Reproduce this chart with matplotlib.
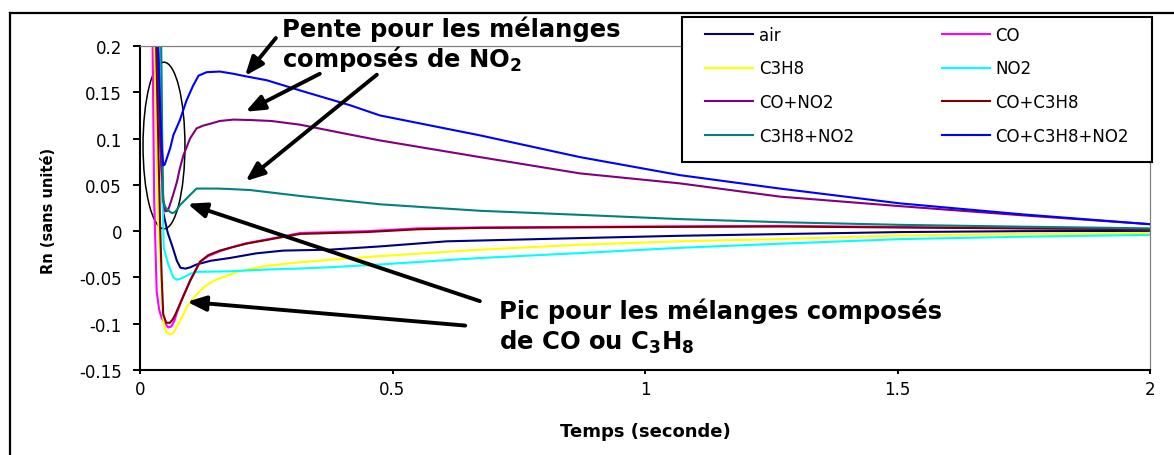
import matplotlib
matplotlib.use("Agg")
import matplotlib.pyplot as plt
from matplotlib.patches import Ellipse, Rectangle
from matplotlib.lines import Line2D

plt.rcParams['font.family'] = ['DejaVu Sans']
plt.rcParams['mathtext.fontset'] = 'dejavusans'

# valeurs (temps en s, Rn sans unite)
t_air = [0.033, 0.036, 0.041, 0.046, 0.055, 0.065, 0.073, 0.08, 0.09, 0.1, 0.112, 0.14, 0.178,
         0.23, 0.284, 0.376, 0.475, 0.607, 0.871, 1.069, 1.267, 1.505, 1.75, 2.0]
rn_air = [0.3, 0.2, 0.09, 0.02, -0.002, -0.018, -0.032, -0.0395, -0.0405, -0.039, -0.036, -0.032, -0.029,
          -0.024, -0.021, -0.02, -0.0165, -0.011, -0.0075, -0.005, -0.0032, -0.001, 0.0, 0.0003]

t_co = [0.022, 0.025, 0.028, 0.033, 0.038, 0.043, 0.05, 0.056, 0.062, 0.068, 0.073, 0.08, 0.086, 0.1,
        0.119, 0.135, 0.158, 0.185, 0.211, 0.251, 0.317, 0.449, 0.55, 0.673, 1.0, 1.267, 1.6, 2.0]
rn_co = [0.3, 0.2, 0.035, -0.065, -0.085, -0.094, -0.1, -0.104, -0.103, -0.097, -0.088, -0.078, -0.07, -0.052,
         -0.033, -0.027, -0.0217, -0.017, -0.013, -0.009, -0.002, 0.0, 0.003, 0.004, 0.005, 0.0057, 0.004, 0.002]

t_c3h8 = [0.026, 0.029, 0.036, 0.041, 0.044, 0.047, 0.052, 0.059, 0.066, 0.079, 0.095, 0.112, 0.13,
          0.152, 0.2, 0.244, 0.31, 0.376, 0.475, 0.673, 0.871, 1.069, 1.267, 1.505, 1.75, 2.0]
rn_c3h8 = [0.3, 0.2, 0.01, -0.04, -0.08, -0.1, -0.109, -0.1115, -0.11, -0.097, -0.08, -0.0685, -0.059,
           -0.052, -0.043, -0.038, -0.034, -0.031, -0.027, -0.02, -0.0147, -0.011, -0.0086, -0.0046, -0.003, -0.002]

t_no2 = [0.04, 0.041, 0.044, 0.047, 0.056, 0.066, 0.073, 0.08, 0.086, 0.1, 0.112, 0.178, 0.244, 0.31,
         0.376, 0.475, 0.673, 0.871, 1.069, 1.267, 1.505, 1.75, 2.0]
rn_no2 = [0.3, 0.2, 0.05, -0.018, -0.036, -0.05, -0.0525, -0.0515, -0.05, -0.046, -0.044, -0.0434, -0.0416, -0.0405,
          -0.039, -0.036, -0.029, -0.0237, -0.018, -0.0136, -0.0086, -0.006, -0.004]

t_co_no2 = [0.031, 0.033, 0.04, 0.046, 0.05, 0.055, 0.059, 0.066, 0.073, 0.079, 0.086, 0.099, 0.112, 0.125,
            0.139, 0.158, 0.185, 0.22, 0.26, 0.317, 0.4, 0.475, 0.673, 0.871, 1.069, 1.267, 1.505, 1.75, 2.0]
rn_co_no2 = [0.3, 0.2, 0.1, 0.035, 0.0215, 0.022, 0.028, 0.04, 0.053, 0.068, 0.082, 0.1, 0.111, 0.114,
             0.116, 0.119, 0.1205, 0.12, 0.119, 0.115, 0.106, 0.098, 0.08, 0.0624, 0.0516, 0.0373, 0.027, 0.017, 0.0075]

t_co_c3h8 = [0.03, 0.032, 0.036, 0.04, 0.043, 0.046, 0.052, 0.059, 0.064, 0.07, 0.078, 0.086, 0.1, 0.119,
             0.135, 0.158, 0.185, 0.211, 0.251, 0.317, 0.449, 0.55, 0.673, 1.0, 1.267, 1.6, 2.0]
rn_co_c3h8 = [0.3, 0.2, 0.1, 0.003, -0.05, -0.09, -0.099, -0.099, -0.096, -0.09, -0.08, -0.07, -0.053, -0.033,
              -0.026, -0.021, -0.017, -0.0135, -0.0095, -0.003, -0.001, 0.002, 0.0035, 0.0045, 0.005, 0.0035, 0.002]

t_c3h8_no2 = [0.041, 0.042, 0.044, 0.046, 0.05, 0.055, 0.059, 0.064, 0.069, 0.074, 0.079, 0.09, 0.099, 0.112,
              0.152, 0.178, 0.218, 0.317, 0.475, 0.673, 0.871, 1.069, 1.267, 1.505, 1.75, 2.0]
rn_c3h8_no2 = [0.3, 0.2, 0.1, 0.032, 0.026, 0.023, 0.021, 0.0195, 0.0205, 0.024, 0.028, 0.034, 0.039, 0.046,
               0.046, 0.0455, 0.0444, 0.038, 0.029, 0.022, 0.0176, 0.013, 0.0097, 0.0068, 0.0048, 0.003]

t_all = [0.034, 0.036, 0.04, 0.043, 0.046, 0.049, 0.053, 0.06, 0.066, 0.079, 0.092, 0.105, 0.116, 0.132,
         0.158, 0.185, 0.208, 0.251, 0.317, 0.416, 0.475, 0.673, 0.871, 1.069, 1.267, 1.505, 1.75, 2.0]
rn_all = [0.3, 0.2, 0.13, 0.09, 0.071, 0.072, 0.0785, 0.09, 0.1036, 0.12, 0.141, 0.157, 0.168, 0.1717,
          0.1724, 0.17, 0.1674, 0.163, 0.152, 0.136, 0.125, 0.1035, 0.08, 0.0605, 0.046, 0.03, 0.018, 0.0075]

names = ['air', 'CO', 'C3H8', 'NO2', 'CO+NO2', 'CO+C3H8', 'C3H8+NO2', 'CO+C3H8+NO2']
colors = ['#000080', '#FF00FF', '#FFFF00', '#00FFFF', '#800080', '#800000', '#008080', '#0000FF']
series = [(t_air, rn_air), (t_co, rn_co), (t_c3h8, rn_c3h8), (t_no2, rn_no2),
          (t_co_no2, rn_co_no2), (t_co_c3h8, rn_co_c3h8), (t_c3h8_no2, rn_c3h8_no2), (t_all, rn_all)]

x_ticks = [0, 0.5, 1, 1.5, 2]
x_labels = ['0', '0.5', '1', '1.5', '2']
y_ticks = [-0.15, -0.1, -0.05, 0, 0.05, 0.1, 0.15, 0.2]
y_labels = ['-0.15', '-0.1', '-0.05', '0', '0.05', '0.1', '0.15', '0.2']

W, H = 1174, 456
fig = plt.figure(figsize=(W / 100, H / 100), dpi=100)
ax = fig.add_axes([140 / W, 1 - 371 / H, 1010 / W, 324 / H])

lines = []
for (t, rn), name, c in zip(series, names, colors):
    ln, = ax.plot(t, rn, color=c, lw=1.5, label=name)
    lines.append(ln)

ax.set_xlim(0, 2)
ax.set_ylim(-0.15, 0.2)
ax.set_xticks(x_ticks)
ax.set_xticklabels(x_labels)
ax.set_yticks(y_ticks)
ax.set_yticklabels(y_labels)
ax.tick_params(axis='y', length=5, width=1.4, pad=8, labelsize=12)
ax.tick_params(axis='x', length=3, width=1.4, pad=4.5, labelsize=12)
for s in ['left', 'bottom']:
    ax.spines[s].set_linewidth(1.5)
for s in ['top', 'right']:
    ax.spines[s].set_color('#808080')
    ax.spines[s].set_linewidth(0.9)

ax.set_xlabel('Temps (seconde)', fontsize=13, fontweight='bold')
ax.xaxis.set_label_coords(0.5, -0.16)
ax.set_ylabel('Rn (sans unité)', fontsize=10.5, fontweight='bold')
ax.yaxis.set_label_coords(-0.083, 0.494)

# ellipse autour des pentes
ax.add_patch(Ellipse((0.0475, 0.0925), 0.083, 0.18, fill=False, ec='k', lw=1.1, clip_on=False))

# fleches
arrow = dict(arrowstyle='-|>,head_length=0.45,head_width=0.18', lw=2.8, color='k',
             shrinkA=0, shrinkB=0, mutation_scale=25)
tails = [(0.269, 0.2086), (0.356, 0.170), (0.469, 0.169), (0.673, -0.0756), (0.644, -0.102)]
tips = [(0.208, 0.1677), (0.209, 0.129), (0.209, 0.054), (0.094, 0.0296), (0.093, -0.0763)]
for tail, tip in zip(tails, tips):
    ax.annotate('', xy=tip, xytext=tail, arrowprops=arrow, annotation_clip=False)

bold = dict(fontsize=17.5, fontweight='bold', ha='left', va='baseline')
ax.text(0.281, 0.2108, 'Pente pour les mélanges', **bold)
ax.text(0.281, 0.1785, r'composés de NO$_\mathbf{2}$', **bold)
ax.text(0.711, -0.0943, 'Pic pour les mélanges composés', **bold)
ax.text(0.711, -0.1266, r'de CO ou C$_\mathbf{3}$H$_\mathbf{8}$', **bold)

# legende (ordre ligne par ligne comme Excel)
order = [0, 2, 4, 6, 1, 3, 5, 7]
fig.add_artist(Rectangle((682 / W, 1 - 163 / H), 470 / W, 145 / H, transform=fig.transFigure,
                         fc='white', ec='k', lw=1.5, zorder=3))
leg = fig.legend([lines[i] for i in order], [names[i] for i in order], loc='upper left',
                 bbox_to_anchor=(705 / W, 1 - 27 / H), ncol=2, frameon=False, fontsize=12,
                 handlelength=2.9, handletextpad=0.32, columnspacing=5.27, labelspacing=0.93,
                 borderpad=0, borderaxespad=0)
leg.set_zorder(4)

# cadre du graphique
fig.add_artist(Line2D([10 / W, 1.01], [1 - 14 / H, 1 - 14 / H], color='k', lw=1.6, transform=fig.transFigure))
fig.add_artist(Line2D([10 / W, 10 / W], [1 - 14 / H, -0.01], color='k', lw=1.6, transform=fig.transFigure))

fig.savefig('out.png', dpi=100)
